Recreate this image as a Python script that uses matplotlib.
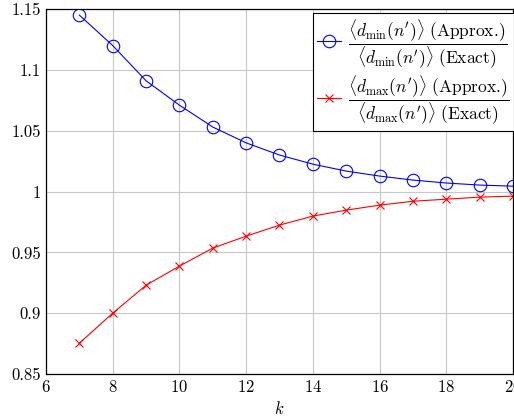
import numpy as np
import matplotlib
matplotlib.use("Agg")
import matplotlib.pyplot as plt

plt.rcParams['font.family'] = 'serif'
plt.rcParams['font.serif'] = ['cmr10']
plt.rcParams['mathtext.fontset'] = 'cm'
plt.rcParams['axes.formatter.use_mathtext'] = True

# Dados
k = [7, 8, 9, 10, 11, 12, 13, 14, 15, 16, 17, 18, 19, 20]
razao_min = [1.145, 1.120, 1.091, 1.071, 1.053, 1.040, 1.030, 1.0225, 1.0168,
             1.0127, 1.0094, 1.007, 1.0053, 1.0044]
razao_max = [0.8753, 0.900, 0.923, 0.9387, 0.9535, 0.9633, 0.9724, 0.9798, 0.9847,
             0.9888, 0.992, 0.9937, 0.9954, 0.9962]
xticks = [6, 8, 10, 12, 14, 16, 18, 20]
yticks = [0.85, 0.9, 0.95, 1.0, 1.05, 1.1, 1.15]
ytick_labels = ['0.85', '0.9', '0.95', '1', '1.05', '1.1', '1.15']

fig = plt.figure(figsize=(5.14, 4.2), dpi=100)
ax = fig.add_axes([0.0895, 0.1095, 0.9085, 0.869])

lbl_min = r'$\dfrac{\langle d_{\min}(n^\prime)\rangle\ \mathrm{(Approx.\!)}}{\langle d_{\min}(n^\prime)\rangle\ \mathrm{(Exact)}}$'
lbl_max = r'$\dfrac{\langle d_{\max}(n^\prime)\rangle\ \mathrm{(Approx.\!)}}{\langle d_{\max}(n^\prime)\rangle\ \mathrm{(Exact)}}$'

ax.plot(k, razao_min, color='blue', lw=0.8, marker='o', markersize=9,
        markerfacecolor='none', markeredgewidth=0.8, label=lbl_min)
ax.plot(k, razao_max, color='red', lw=0.8, marker='x', markersize=6,
        markeredgewidth=0.8, label=lbl_max)

ax.set_xlim(6, 20)
ax.set_ylim(0.85, 1.15)
ax.set_xticks(xticks)
ax.set_yticks(yticks)
ax.set_yticklabels(ytick_labels)
ax.tick_params(direction='in', labelsize=12, length=0)
ax.grid(True, color='#c8c8c8', lw=0.8)
ax.set_axisbelow(True)
for s in ax.spines.values():
    s.set_linewidth(0.9)
ax.set_xlabel(r'$k$', fontsize=12)

leg = ax.legend(loc='upper right', fontsize=12.5, fancybox=False, framealpha=1,
                edgecolor='black', handlelength=1.4, handletextpad=0.4,
                borderpad=0.25, labelspacing=0.15, borderaxespad=0,
                bbox_to_anchor=(1.002, 0.99))
leg.get_frame().set_linewidth(0.8)

fig.savefig('out.png', dpi=100)
